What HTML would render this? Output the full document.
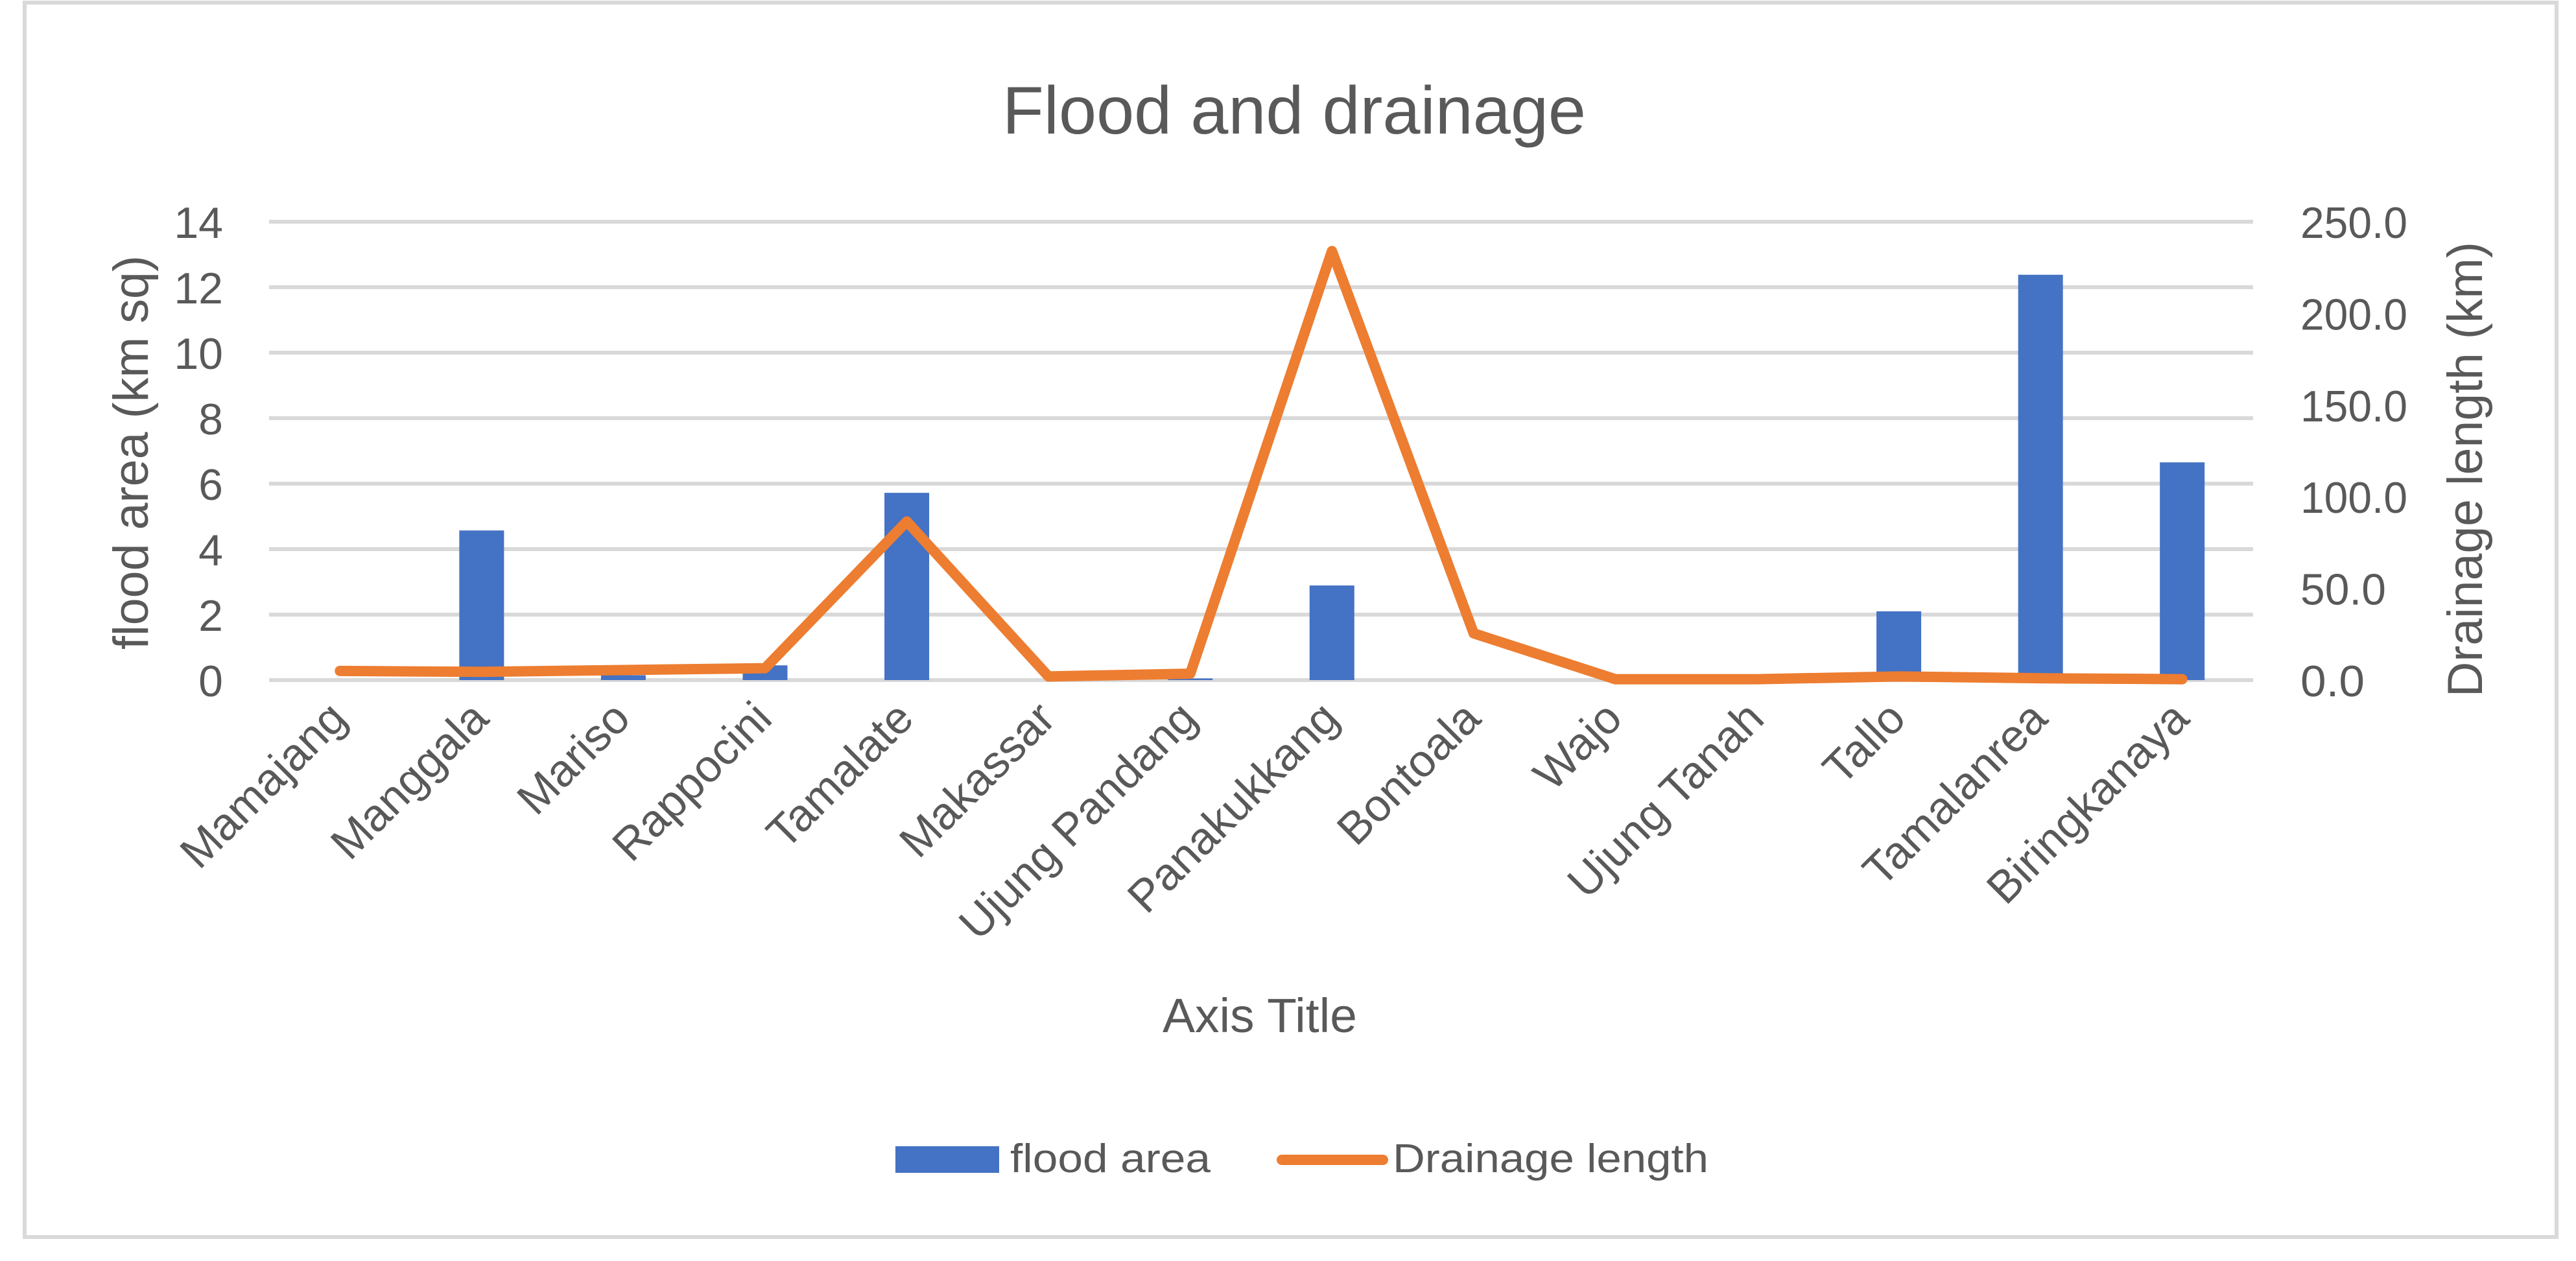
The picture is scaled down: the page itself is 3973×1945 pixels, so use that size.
<!DOCTYPE html>
<html><head><meta charset="utf-8">
<style>
html,body{margin:0;padding:0;background:#fff;}
svg{display:block;font-family:"Liberation Sans",sans-serif;}
</style></head>
<body>
<svg id="chart" width="3973" height="1945" viewBox="0 0 3973 1945" xmlns="http://www.w3.org/2000/svg">
  <rect x="38" y="4" width="3905" height="1904" fill="#fff" stroke="#d9d9d9" stroke-width="6"/>
  <text x="1996" y="206" font-size="104" fill="#595959" text-anchor="middle" textLength="900" lengthAdjust="spacingAndGlyphs">Flood and drainage</text>
  <g id="grid"></g>
  <g id="bars"></g>
  <g id="line"></g>
  <g id="yl"></g>
  <g id="yr"></g>
  <g id="xl"></g>
  <text transform="translate(228,698) rotate(-90)" font-size="76" fill="#595959" text-anchor="middle" textLength="608" lengthAdjust="spacingAndGlyphs">flood area (km sq)</text>
  <text transform="translate(3828,724) rotate(-90)" font-size="76" fill="#595959" text-anchor="middle" textLength="702" lengthAdjust="spacingAndGlyphs">Drainage length (km)</text>
  <text x="1943" y="1592" font-size="74" fill="#595959" text-anchor="middle" textLength="300" lengthAdjust="spacingAndGlyphs">Axis Title</text>
  <g>
    <rect x="1381" y="1768" width="160" height="41" fill="#4472c4"/>
    <text x="1558" y="1808" font-size="62" fill="#595959" textLength="309" lengthAdjust="spacingAndGlyphs">flood area</text>
    <line x1="1977" y1="1789" x2="2133" y2="1789" stroke="#ed7d31" stroke-width="16" stroke-linecap="round"/>
    <text x="2148" y="1808" font-size="62" fill="#595959" textLength="487" lengthAdjust="spacingAndGlyphs">Drainage length</text>
  </g>
</svg>
<script>
const categories = ["Mamajang","Manggala","Mariso","Rappocini","Tamalate","Makassar","Ujung Pandang","Panakukkang","Bontoala","Wajo","Ujung Tanah","Tallo","Tamalanrea","Biringkanaya"];
const floodArea = [0, 4.57, 0.15, 0.45, 5.72, 0, 0.05, 2.89, 0, 0, 0, 2.1, 12.38, 6.65];
const drainageLength = [5, 4.5, 5.5, 6.5, 86.5, 2, 3.5, 234, 25.5, 0.5, 0.5, 2, 1, 0.5];
const leftTicks = [0, 2, 4, 6, 8, 10, 12, 14];
const rightTicks = ["0.0","50.0","100.0","150.0","200.0","250.0"];

const NS = "http://www.w3.org/2000/svg";
const X0 = 415, X1 = 3475, Y0 = 1049, Y1 = 342;
const band = (X1 - X0) / categories.length;
const xC = i => X0 + band * (i + 0.5);
const yL = v => Y0 - (v / 14) * (Y0 - Y1);
const yR = v => Y0 - (v / 250) * (Y0 - Y1);
function mk(tag, attrs, parent) {
  const e = document.createElementNS(NS, tag);
  for (const k in attrs) e.setAttribute(k, attrs[k]);
  parent.appendChild(e);
  return e;
}
const grid = document.getElementById('grid');
const yl = document.getElementById('yl');
leftTicks.forEach(t => {
  const g = mk('line', {x1: X0, x2: X1, y1: yL(t), y2: yL(t), stroke: '#d9d9d9', 'stroke-width': 6}, grid);
  
  
  const tx = mk('text', {x: 344, y: yL(t) + 25, 'font-size': 68, fill: '#595959', 'text-anchor': 'end'}, yl);
  tx.textContent = t;
  
  
});
const yr = document.getElementById('yr');
rightTicks.forEach(t => {
  const tx = mk('text', {x: 3548, y: yR(parseFloat(t)) + 25, 'font-size': 68, fill: '#595959', textLength: t.length * 33, lengthAdjust: 'spacingAndGlyphs'}, yr);
  tx.textContent = t;
  
  
});
const bars = document.getElementById('bars');
const bw = 69;
floodArea.forEach((v, i) => {
  const r = mk('rect', {x: xC(i) - bw / 2, y: yL(v), width: bw, height: Y0 - yL(v), fill: '#4472c4'}, bars);
  
  
});
const lineG = document.getElementById('line');
const pts = drainageLength.map((v, i) => xC(i) + ',' + yR(v)).join(' ');
const pl = mk('polyline', {points: pts, fill: 'none', stroke: '#ed7d31', 'stroke-width': 16, 'stroke-linejoin': 'round', 'stroke-linecap': 'round'}, lineG);


const xl = document.getElementById('xl');
categories.forEach((c, i) => {
  const tx = mk('text', {transform: 'translate(' + (xC(i) + 14) + ',1112) rotate(-45)', 'font-size': 70, fill: '#595959', 'text-anchor': 'end'}, xl);
  tx.textContent = c;
  
  
});
</script>
</body></html>
